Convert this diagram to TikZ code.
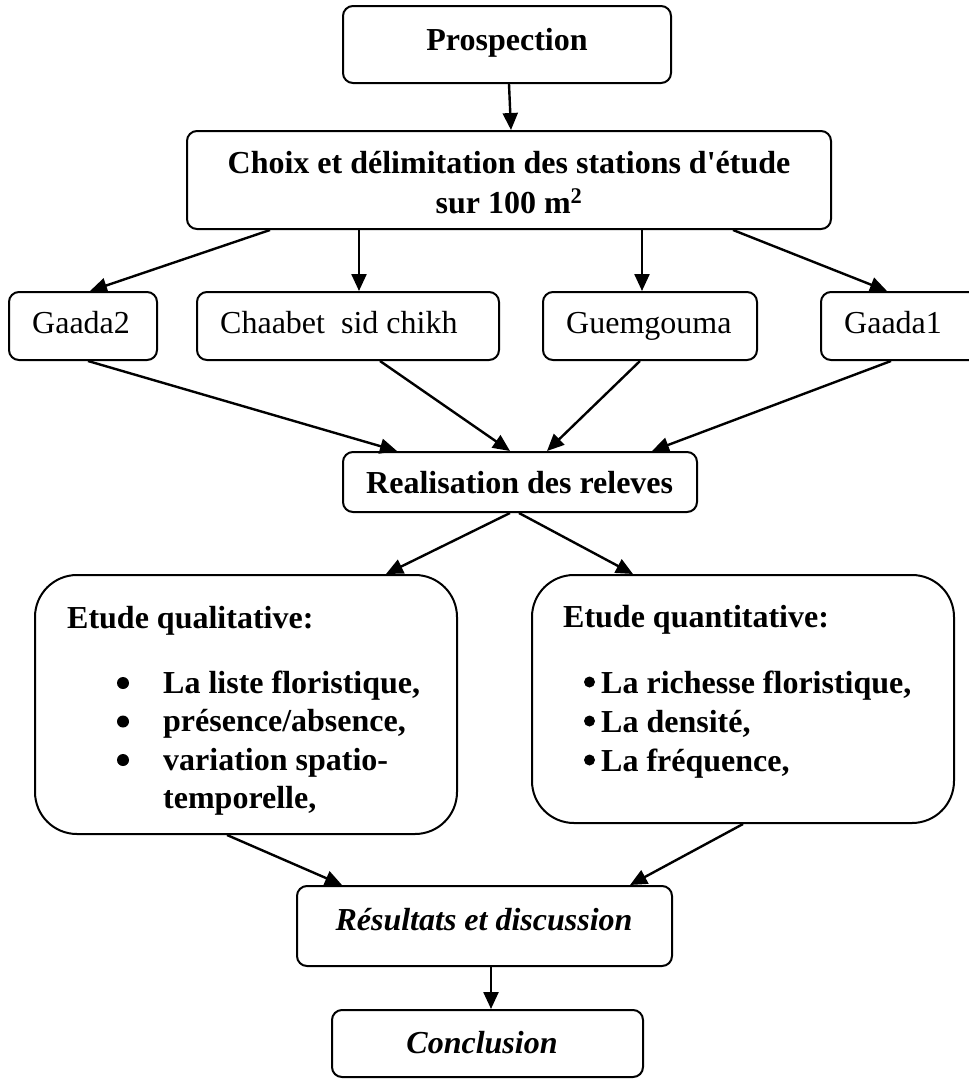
\documentclass[tikz,border=0pt]{standalone}
\usepackage{fontspec}
\setmainfont{Liberation Serif}[Ligatures=TeXOff]
\usetikzlibrary{arrows.meta}
\begin{document}
\begin{tikzpicture}[x=1pt,y=-1pt,
  box/.style={draw,line width=2pt,rounded corners=10pt,inner sep=0pt},
  bigbox/.style={box,rounded corners=42pt},
  arr/.style={line width=2.4pt,-{Triangle[length=17pt,width=15pt]}},
  txt/.style={inner sep=0pt,font=\fontsize{32}{38}\selectfont,anchor=base},
  txtl/.style={txt,anchor=base west},
  dotq/.style={circle,fill,inner sep=0pt,minimum size=12pt},
  dotn/.style={circle,fill,inner sep=0pt,minimum size=11pt},
  ]
\useasboundingbox (0,0) rectangle (969,1080);
\clip (0,0) rectangle (969,1080);

% boxes
\node[box,minimum width=328pt,minimum height=77pt] (pros) at (507,44.5) {};
\node[box,minimum width=644pt,minimum height=98pt] (choix) at (509,180) {};
\node[box,minimum width=148pt,minimum height=68pt] (gaada2) at (83,326) {};
\node[box,minimum width=302pt,minimum height=68pt] (chaabet) at (348,326) {};
\node[box,minimum width=214pt,minimum height=68pt] (guem) at (650,326) {};
\node[box,minimum width=169pt,minimum height=68pt] (gaada1) at (905.5,326) {};
\node[box,minimum width=354pt,minimum height=60pt] (real) at (520,482) {};
\node[bigbox,minimum width=422pt,minimum height=259pt] (qual) at (246,704.5) {};
\node[bigbox,minimum width=422pt,minimum height=248pt] (quant) at (743,699) {};
\node[box,minimum width=375pt,minimum height=80pt] (res) at (484.5,926) {};
\node[box,minimum width=311pt,minimum height=67pt] (concl) at (487.5,1043.5) {};

% texts
\node[txt] (tpros) at (507,50) {\textbf{Prospection}};
\node[txt] (tchoix1) at (509,173) {\textbf{Choix et délimitation des stations d'étude}};
\node[txt] (tchoix2) at (509,213) {\textbf{sur 100 m\textsuperscript{2}}};
\node[txtl] (tg2) at (32,333) {Gaada2};
\node[txtl] (tch) at (220,333) {Chaabet\ \ sid chikh};
\node[txtl] (tgu) at (566,333) {Guemgouma};
\node[txtl] (tg1) at (844,333) {Gaada1};
\node[txtl] (treal) at (366,493) {\textbf{Realisation des releves}};

\node[txtl] (tqual) at (67,628) {\textbf{Etude qualitative:}};
\node[dotq] (bq1) at (123,683) {};
\node[dotq] (bq2) at (123,721.5) {};
\node[dotq] (bq3) at (123,760) {};
\node[txtl] (q1) at (163,693) {\textbf{La liste floristique,}};
\node[txtl] (q2) at (163,731.5) {\textbf{présence/absence,}};
\node[txtl] (q3) at (163,770) {\textbf{variation spatio-}};
\node[txtl] (q4) at (163,808.5) {\textbf{temporelle,}};

\node[txtl] (tquant) at (563,627) {\textbf{Etude quantitative:}};
\node[dotn] (bn1) at (589.5,682) {};
\node[dotn] (bn2) at (589.5,721) {};
\node[dotn] (bn3) at (589.5,760) {};
\node[txtl] (n1) at (601,693) {\textbf{La richesse floristique,}};
\node[txtl] (n2) at (601,732) {\textbf{La densité,}};
\node[txtl] (n3) at (601,771) {\textbf{La fréquence,}};

\node[txt] (tres) at (484,930) {\textbf{\textit{Résultats et discussion}}};
\node[txt] (tconcl) at (482,1053) {\textbf{\textit{Conclusion}}};

% connectors
\draw[arr] ([xshift=2pt]pros.south) -- ([xshift=2pt]choix.north);
\draw[arr] ([xshift=-239pt]choix.south) -- ([xshift=7pt]gaada2.north);
\draw[arr] ([xshift=-150pt]choix.south) -- ([xshift=11pt]chaabet.north);
\draw[arr] ([xshift=133pt]choix.south) -- ([xshift=-8pt]guem.north);
\draw[arr] ([xshift=224pt]choix.south) -- ([xshift=-18.5pt]gaada1.north);
\draw[arr] ([xshift=5pt]gaada2.south) -- ([xshift=-123pt]real.north);
\draw[arr] ([xshift=32pt]chaabet.south) -- ([xshift=-10pt]real.north);
\draw[arr] ([xshift=-10pt]guem.south) -- ([xshift=27pt]real.north);
\draw[arr] ([xshift=-14.5pt]gaada1.south) -- ([xshift=132pt]real.north);
\draw[arr] ([xshift=-10pt]real.south) -- ([xshift=140pt]qual.north);
\draw[arr] ([xshift=-1pt]real.south) -- ([xshift=-110pt]quant.north);
\draw[arr] ([xshift=-19pt]qual.south) -- ([xshift=-142.5pt]res.north);
\draw[arr] (quant.south) -- ([xshift=145.5pt]res.north);
\draw[arr] ([xshift=6.5pt]res.south) -- ([xshift=3.5pt]concl.north);
\end{tikzpicture}
\end{document}
